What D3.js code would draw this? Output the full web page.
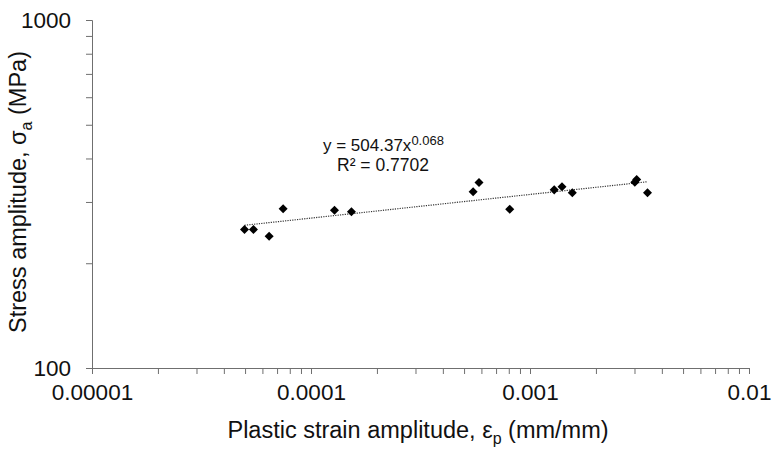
<!DOCTYPE html>
<html><head><meta charset="utf-8">
<script src="https://cdn.jsdelivr.net/npm/d3@7"></script>
<style>html,body{margin:0;padding:0;background:#fff;} svg{display:block;font-family:Arial,"Liberation Sans",sans-serif;}</style>
</head><body>
<script>
// Data
const strainAmp = [4.97e-5, 5.46e-5, 6.44e-5, 7.46e-5, 1.28e-4, 1.53e-4, 5.50e-4, 5.85e-4, 8.08e-4, 1.29e-3, 1.40e-3, 1.56e-3, 3.01e-3, 3.07e-3, 3.44e-3];
const stressAmp = [250, 250, 239, 287, 284, 281, 321, 341, 286, 325, 332, 319, 342, 348, 319];
const fitCoef = 504.37, fitExp = 0.068;
const xTickValues = [1e-5, 1e-4, 1e-3, 1e-2];
const xTickLabels = ["0.00001", "0.0001", "0.001", "0.01"];
const yTickValues = [100, 1000];
const yTickLabels = ["100", "1000"];

const W = 773, H = 452;
const svg = d3.select("body").append("svg").attr("width", W).attr("height", H);
const x = d3.scaleLog().domain([1e-5, 1e-2]).range([92, 749]);
const y = d3.scaleLog().domain([100, 1000]).range([368, 20]);
const axisColor = "#6f6f6f";

// minor ticks
const xMinor = [];
for (let d = -5; d < -2; d++) for (let m = 2; m <= 9; m++) xMinor.push(m * Math.pow(10, d));
const yMinor = [];
for (let m = 2; m <= 9; m++) yMinor.push(m * 100);

const gx = svg.append("g").attr("transform", `translate(0,${y(100)})`);
gx.call(d3.axisBottom(x).tickValues(xTickValues).tickSize(6).tickPadding(10)
  .tickFormat((d, i) => xTickLabels[i]));
const gxm = svg.append("g").attr("transform", `translate(0,${y(100)})`);
gxm.call(d3.axisBottom(x).tickValues(xMinor).tickSize(6).tickFormat(""));
gxm.select(".domain").remove();

const gy = svg.append("g").attr("transform", `translate(${x(1e-5)},0)`);
gy.call(d3.axisLeft(y).tickValues(yTickValues).tickSize(6).tickPadding(15)
  .tickFormat((d, i) => yTickLabels[i]));
const gym = svg.append("g").attr("transform", `translate(${x(1e-5)},0)`);
gym.call(d3.axisLeft(y).tickValues(yMinor).tickSize(6).tickFormat(""));
gym.select(".domain").remove();

svg.selectAll(".domain").attr("stroke", axisColor).attr("stroke-width", 1);
svg.selectAll(".tick line").attr("stroke", axisColor).attr("stroke-width", 1);
svg.selectAll(".tick text").attr("fill", "#111").style("font-size", "22.5px").style("font-family", "Arial, 'Liberation Sans', sans-serif");
gx.selectAll(".tick text").attr("dy", "0.71em");

// trend line
const xs = d3.extent(strainAmp);
const trendPts = d3.range(0, 51).map(i => {
  const xv = Math.pow(10, Math.log10(xs[0]) + (Math.log10(xs[1]) - Math.log10(xs[0])) * i / 50);
  return [xv, fitCoef * Math.pow(xv, fitExp)];
});
svg.append("path")
  .attr("d", d3.line().x(d => x(d[0])).y(d => y(d[1]))(trendPts))
  .attr("fill", "none").attr("stroke", "#333").attr("stroke-width", 1.2)
  .attr("stroke-dasharray", "1.2,1.2");

// markers
const sym = d3.symbol().type(d3.symbolDiamond2).size(52);
svg.append("g").selectAll("path").data(strainAmp).join("path")
  .attr("transform", (d, i) => `translate(${x(d)},${y(stressAmp[i])})`)
  .attr("d", sym).attr("fill", "#000");

// equation
const eq = svg.append("text").attr("x", 323).attr("y", 151).attr("fill", "#111")
  .style("font-size", "17px");
eq.append("tspan").text("y = 504.37x");
eq.append("tspan").attr("dy", -6).style("font-size", "13px").text("0.068");
svg.append("text").attr("x", 383).attr("y", 171).attr("text-anchor", "middle").attr("fill", "#111")
  .style("font-size", "17.5px").text("R² = 0.7702");

// axis titles
const xt = svg.append("text").attr("x", 418).attr("y", 438).attr("text-anchor", "middle")
  .attr("fill", "#111").style("font-size", "23.5px");
xt.append("tspan").text("Plastic strain amplitude, ε");
xt.append("tspan").attr("dy", 6).style("font-size", "16px").text("p");
xt.append("tspan").attr("dy", -6).text(" (mm/mm)");

const yt = svg.append("text").attr("transform", "translate(26,192) rotate(-90)").attr("text-anchor", "middle")
  .attr("fill", "#111").style("font-size", "23.5px");
yt.append("tspan").text("Stress amplitude, σ");
yt.append("tspan").attr("dy", 6).style("font-size", "16px").text("a");
yt.append("tspan").attr("dy", -6).text(" (MPa)");
</script>
</body></html>
